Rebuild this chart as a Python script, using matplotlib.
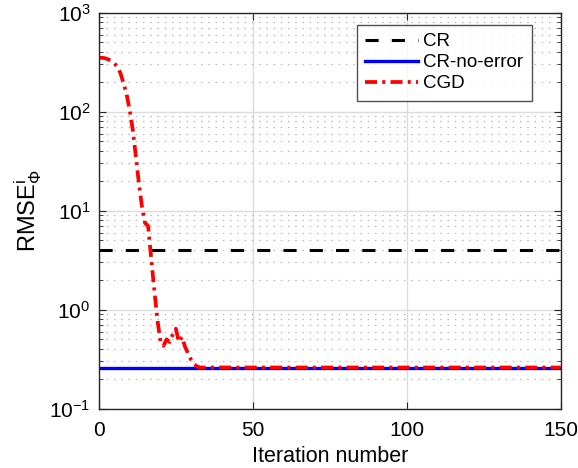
import numpy as np
import matplotlib
matplotlib.use('Agg')
import matplotlib.pyplot as plt
from matplotlib.ticker import LogLocator, NullFormatter

plt.rcParams['font.family'] = ['Liberation Sans', 'DejaVu Sans']
plt.rcParams['mathtext.fontset'] = 'custom'
plt.rcParams['mathtext.rm'] = 'Liberation Sans'
plt.rcParams['mathtext.it'] = 'Liberation Sans'

# data
n_iter = 150
cr_level = 4.0
cr_no_error_level = 0.255

cgd_head = [350, 350, 346, 338, 325, 308, 285, 245, 195, 150,
            105, 66, 36, 19, 11, 7.5, 7.0, 3.3, 1.6, 0.8,
            0.48, 0.43, 0.5, 0.47, 0.56, 0.64, 0.47, 0.53, 0.42, 0.36,
            0.31, 0.28, 0.265, 0.26]
cgd_tail = 0.26

iters = np.arange(0, n_iter + 1)
cgd = np.full(iters.shape, cgd_tail, dtype=float)
cgd[:len(cgd_head)] = cgd_head
cr = np.full(iters.shape, cr_level)
cr_no_error = np.full(iters.shape, cr_no_error_level)

axcol = (0.15, 0.15, 0.15)

fig = plt.figure(figsize=(5.78, 4.68), dpi=100)
ax = fig.add_axes([0.171, 0.127, 0.799, 0.846])

ax.plot(iters, cr, color='black', linestyle=(0, (4.3, 4.3)), linewidth=2.2, label='CR')
ax.plot(iters, cr_no_error, color='#0000ff', linestyle='-', linewidth=2.4, label='CR-no-error')
ax.plot(iters, cgd, color='#ff0000', linestyle=(0, (3.2, 1.4, 0.8, 1.4)), linewidth=2.7, label='CGD')

ax.set_yscale('log')
ax.set_xlim(0, 150)
ax.set_ylim(1e-1, 1e3)
ax.set_xticks([0, 50, 100, 150])
ax.yaxis.set_major_locator(LogLocator(base=10, numticks=10))
ax.yaxis.set_minor_locator(LogLocator(base=10, subs=np.arange(2, 10), numticks=20))
ax.yaxis.set_minor_formatter(NullFormatter())

ax.grid(True, which='major', color='#dcdcdc', linewidth=1.0, linestyle='-')
ax.grid(True, which='minor', axis='y', color='#b8b8b8', linewidth=0.9, linestyle=(0, (1.2, 4.6)))
ax.set_axisbelow(True)

ax.tick_params(which='both', direction='in', top=True, right=True, colors=axcol, labelcolor='black')
ax.tick_params(which='major', length=5, labelsize=15)
ax.tick_params(axis='x', which='major', pad=9)
ax.tick_params(axis='y', which='major', pad=6)
ax.tick_params(which='minor', length=3)
for s in ax.spines.values():
    s.set_color(axcol)
    s.set_linewidth(1.0)

ax.set_xlabel('Iteration number', fontsize=15.5, labelpad=4)
ax.set_ylabel(r'RMSE$^{\mathrm{i}}_{\Phi}$', fontsize=17, labelpad=4)

leg = ax.legend(loc='upper right', bbox_to_anchor=(0.938, 0.969), borderaxespad=0,
                fontsize=13.5, frameon=True, fancybox=False, edgecolor=axcol,
                handlelength=2.8, borderpad=0.45, labelspacing=0.2, handletextpad=0.3)
leg.get_frame().set_linewidth(1.0)

fig.savefig('out.png', dpi=100)
